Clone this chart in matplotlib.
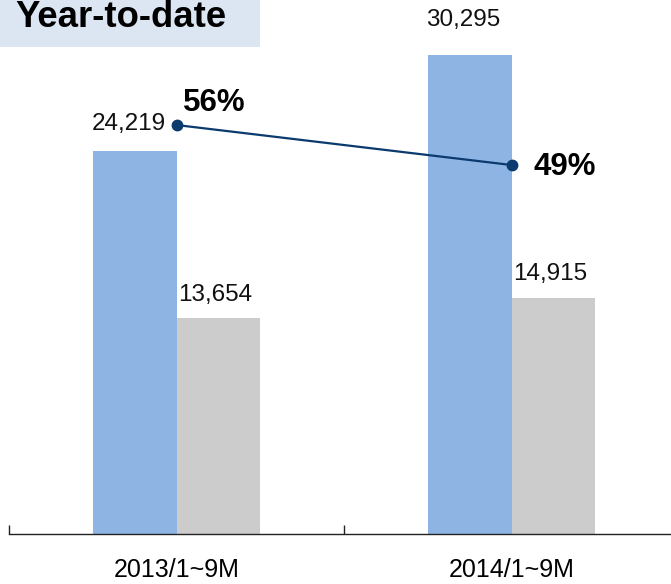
import matplotlib
matplotlib.use("Agg")
import matplotlib.pyplot as plt
from matplotlib.patches import Rectangle

# Data
periods = ["2013/1~9M", "2014/1~9M"]
total_values = [24219, 30295]
part_values = [13654, 14915]
share_pct = [56, 49]
title = "Year-to-date"

plt.rcParams["font.family"] = ["Liberation Sans", "DejaVu Sans"]

W, H, DPI = 671, 584, 100
fig = plt.figure(figsize=(W / DPI, H / DPI), dpi=DPI)

# Plot area: baseline at 534 px from top, spanning full height above
ax = fig.add_axes([9 / W, 50 / H, 670 / W, 534 / H])
ax.set_xlim(-0.5, 1.5)
ax.set_ylim(0, 33774)

blue = "#8EB4E3"
gray = "#CCCCCC"
navy = "#0B3A6E"
bw = 0.25

x = list(range(len(periods)))
ax.bar([i - bw / 2 for i in x], total_values, width=bw, color=blue, zorder=2)
ax.bar([i + bw / 2 for i in x], part_values, width=bw, color=gray, zorder=2)

px = 0.72  # points per pixel at 100 dpi
total_lift = [27, 35]
part_lift = [23, 24.5]
for i in x:
    ax.annotate(f"{total_values[i]:,}", (i - bw / 2, total_values[i]),
                xytext=(-6 * px, total_lift[i] * px), textcoords="offset points",
                ha="center", va="center", fontsize=17.5, color="#111111")
    ax.annotate(f"{part_values[i]:,}", (i + bw / 2, part_values[i]),
                xytext=(-3 * px, part_lift[i] * px), textcoords="offset points",
                ha="center", va="center", fontsize=17.5, color="#111111")

# Axis styling
for s in ["top", "right", "left"]:
    ax.spines[s].set_visible(False)
ax.spines["bottom"].set_color("#222222")
ax.spines["bottom"].set_linewidth(1.0)
ax.set_yticks([])
ax.set_xticks([-0.5, 0.5, 1.5])
ax.set_xticklabels([])
ax.tick_params(axis="x", which="major", direction="in", length=6.5, width=1.0, color="#222222")
ax.set_xticks(x, minor=True)
ax.set_xticklabels(periods, minor=True, fontsize=18)
ax.tick_params(axis="x", which="minor", length=0, pad=17)

# Share line on secondary axis
ax2 = ax.twinx()
ax2.set_ylim(-15.575, 77.88)
ax2.set_yticks([])
for s in ax2.spines.values():
    s.set_visible(False)
ax2.plot(x, share_pct, color=navy, lw=1.6, marker="o", markersize=7.5, zorder=3)
pct_offsets = [(38, 22), (53, -1.5)]
for i in x:
    dx, dy = pct_offsets[i]
    ax2.annotate(f"{share_pct[i]}%", (i, share_pct[i]),
                 xytext=(dx * px, dy * px), textcoords="offset points",
                 ha="center", va="center", fontsize=22.5, fontweight="bold", color="#000000")

# Title banner
fig.patches.append(Rectangle((0, 1 - 47 / H), 260 / W, 47 / H, transform=fig.transFigure,
                             facecolor="#DCE6F2", edgecolor="none", zorder=0))
fig.text(15 / W, 1 - 27 / H, title, fontsize=26.3, fontweight="bold",
         ha="left", va="baseline", color="#000000")

fig.savefig("out.png", dpi=DPI)
